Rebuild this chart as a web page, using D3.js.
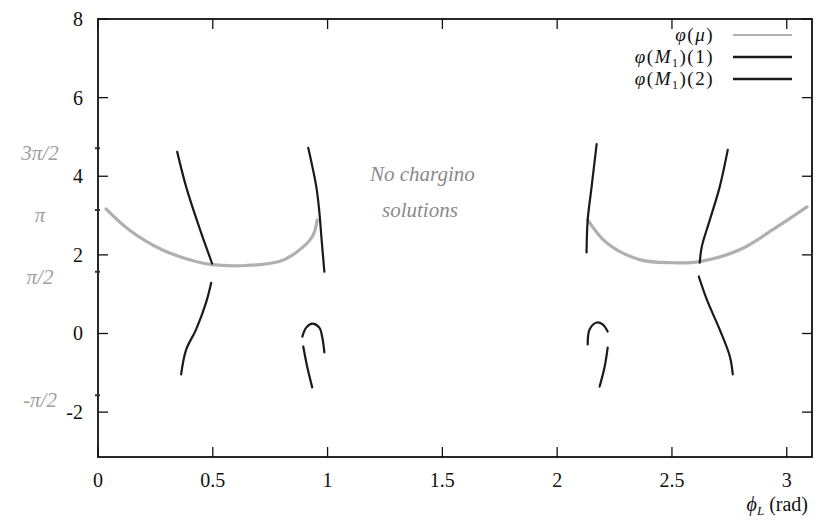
<!DOCTYPE html>
<html>
<head>
<meta charset="utf-8">
<script src="https://cdn.jsdelivr.net/npm/d3@7"></script>
<style>
  body { margin: 0; background: #fff; }
  text { font-family: "Liberation Serif", "DejaVu Serif", serif; }
</style>
</head>
<body>
<svg id="chart" width="816" height="523"></svg>
<script>
// x ticks and y ticks
const xTicks = [0, 0.5, 1, 1.5, 2, 2.5, 3];
const yTicks = [-2, 0, 2, 4, 6, 8];
const piTicks = [-Math.PI / 2, Math.PI / 2, Math.PI, 3 * Math.PI / 2];
const piLabels = ["-\u03c0/2", "\u03c0/2", "\u03c0", "3\u03c0/2"];

// phi(mu), grey curve - two branches
const muLeft = [[0.035, 3.17], [0.135, 2.64], [0.279, 2.13], [0.427, 1.83], [0.497, 1.75],
  [0.645, 1.73], [0.789, 1.83], [0.863, 2.06], [0.933, 2.46], [0.955, 2.89]];
const muRight = [[2.133, 2.89], [2.215, 2.31], [2.359, 1.88], [2.503, 1.80], [2.621, 1.83],
  [2.795, 2.13], [2.939, 2.64], [3.088, 3.22]];

// phi(M1) solution (1)
const m1First = [
  [[0.345, 4.62], [0.384, 3.73], [0.440, 2.72], [0.497, 1.78]],
  [[0.916, 4.72], [0.951, 3.73], [0.964, 3.10], [0.973, 2.46], [0.986, 1.57]],
  [[2.172, 4.82], [2.150, 3.73], [2.133, 2.89], [2.128, 2.06]],
  [[2.743, 4.67], [2.708, 3.73], [2.665, 2.89], [2.630, 2.21], [2.621, 1.80]]
];

// phi(M1) solution (2)
const m1Second = [
  [[0.493, 1.29], [0.471, 0.79], [0.427, 0.10], [0.384, -0.41], [0.362, -1.04]],
  [[0.890, -0.08], [0.907, 0.15], [0.933, 0.25], [0.964, 0.15], [0.977, -0.10], [0.986, -0.48]],
  [[0.894, -0.33], [0.911, -0.84], [0.933, -1.37]],
  [[2.133, -0.28], [2.141, 0.10], [2.172, 0.28], [2.198, 0.23], [2.220, 0.05]],
  [[2.220, -0.36], [2.207, -0.84], [2.185, -1.35]],
  [[2.617, 1.45], [2.652, 0.86], [2.708, 0.10], [2.752, -0.58], [2.765, -1.04]]
];

const svg = d3.select("#chart");
const mLeft = 98, mRight = 812, mTop = 19, mBottom = 457;

const x = d3.scaleLinear().domain([0, 3.11]).range([mLeft, mRight]);
const y = d3.scaleLinear().domain([-Math.PI, 8]).range([mBottom, mTop]);

// frame
svg.append("rect")
  .attr("x", mLeft).attr("y", mTop)
  .attr("width", mRight - mLeft).attr("height", mBottom - mTop)
  .attr("fill", "none").attr("stroke", "#111").attr("stroke-width", 1.8);

// ticks (mirrored, pointing inwards)
const tickLen = 10;
xTicks.forEach(t => {
  svg.append("line").attr("x1", x(t)).attr("x2", x(t)).attr("y1", mBottom).attr("y2", mBottom - tickLen)
    .attr("stroke", "#111").attr("stroke-width", 1.3);
  svg.append("line").attr("x1", x(t)).attr("x2", x(t)).attr("y1", mTop).attr("y2", mTop + tickLen)
    .attr("stroke", "#111").attr("stroke-width", 1.3);
  svg.append("text").attr("x", x(t)).attr("y", 487)
    .attr("text-anchor", "middle").attr("font-size", 20).attr("fill", "#111")
    .text(t);
});
yTicks.forEach(t => {
  svg.append("line").attr("x1", mLeft).attr("x2", mLeft + tickLen).attr("y1", y(t)).attr("y2", y(t))
    .attr("stroke", "#111").attr("stroke-width", 1.3);
  svg.append("line").attr("x1", mRight).attr("x2", mRight - tickLen).attr("y1", y(t)).attr("y2", y(t))
    .attr("stroke", "#111").attr("stroke-width", 1.3);
  svg.append("text").attr("x", 83).attr("y", y(t) + 7)
    .attr("text-anchor", "end").attr("font-size", 20).attr("fill", "#111")
    .text(t);
});

// hand-drawn pi marks on the left axis
piTicks.forEach((t, i) => {
  svg.append("line").attr("x1", mLeft - 3).attr("x2", mLeft + 2).attr("y1", y(t)).attr("y2", y(t))
    .attr("stroke", "#333").attr("stroke-width", 2);
  svg.append("text").attr("x", 40).attr("y", y(t) + 12)
    .attr("text-anchor", "middle").attr("font-size", 21).attr("font-style", "italic")
    .attr("fill", "#a0a0a0")
    .text(piLabels[i]);
});

const line = d3.line()
  .x(d => x(d[0])).y(d => y(d[1]))
  .curve(d3.curveCatmullRom.alpha(0.5));

// grey phi(mu)
[muLeft, muRight].forEach(seg => {
  svg.append("path").attr("d", line(seg))
    .attr("fill", "none").attr("stroke", "#b0b0b0").attr("stroke-width", 3.2)
    .attr("stroke-linecap", "round");
});

// black phi(M1)
m1First.concat(m1Second).forEach(seg => {
  svg.append("path").attr("d", line(seg))
    .attr("fill", "none").attr("stroke", "#1a1a1a").attr("stroke-width", 2.2)
    .attr("stroke-linecap", "round");
});

// legend
const legend = [
  { arg: "\u03bc", sub: null, tail: "", color: "#b0b0b0", w: 2, yy: 35 },
  { arg: "M", sub: "1", tail: "(1)", color: "#1a1a1a", w: 2.4, yy: 57 },
  { arg: "M", sub: "1", tail: "(2)", color: "#1a1a1a", w: 2.4, yy: 79 }
];
legend.forEach(d => {
  const t = svg.append("text").attr("x", 714).attr("y", d.yy + 6)
    .attr("text-anchor", "end").attr("font-size", 19).attr("letter-spacing", 1.5).attr("fill", "#111");
  t.append("tspan").attr("font-style", "italic").text("\u03c6");
  t.append("tspan").text("(");
  t.append("tspan").attr("font-style", "italic").text(d.arg);
  if (d.sub) t.append("tspan").attr("font-size", 12).attr("dy", 4).text(d.sub);
  t.append("tspan").attr("dy", d.sub ? -4 : 0).text(")" + d.tail);
  svg.append("line").attr("x1", 733).attr("x2", 792).attr("y1", d.yy).attr("y2", d.yy)
    .attr("stroke", d.color).attr("stroke-width", d.w);
});

// x axis label
const xl = svg.append("text").attr("x", 808).attr("y", 511)
  .attr("text-anchor", "end").attr("font-size", 20).attr("fill", "#111");
xl.append("tspan").attr("font-style", "italic").text("\u03d5");
xl.append("tspan").attr("font-style", "italic").attr("font-size", 13).attr("dy", 4).text("L");
xl.append("tspan").attr("dy", -4).text(" (rad)");

// handwritten note
svg.append("text").attr("x", 370).attr("y", 181)
  .attr("font-size", 21).attr("font-style", "italic").attr("fill", "#8a8a8a")
  .text("No chargino");
svg.append("text").attr("x", 382).attr("y", 217)
  .attr("font-size", 21).attr("font-style", "italic").attr("fill", "#8a8a8a")
  .text("solutions");
</script>
</body>
</html>
